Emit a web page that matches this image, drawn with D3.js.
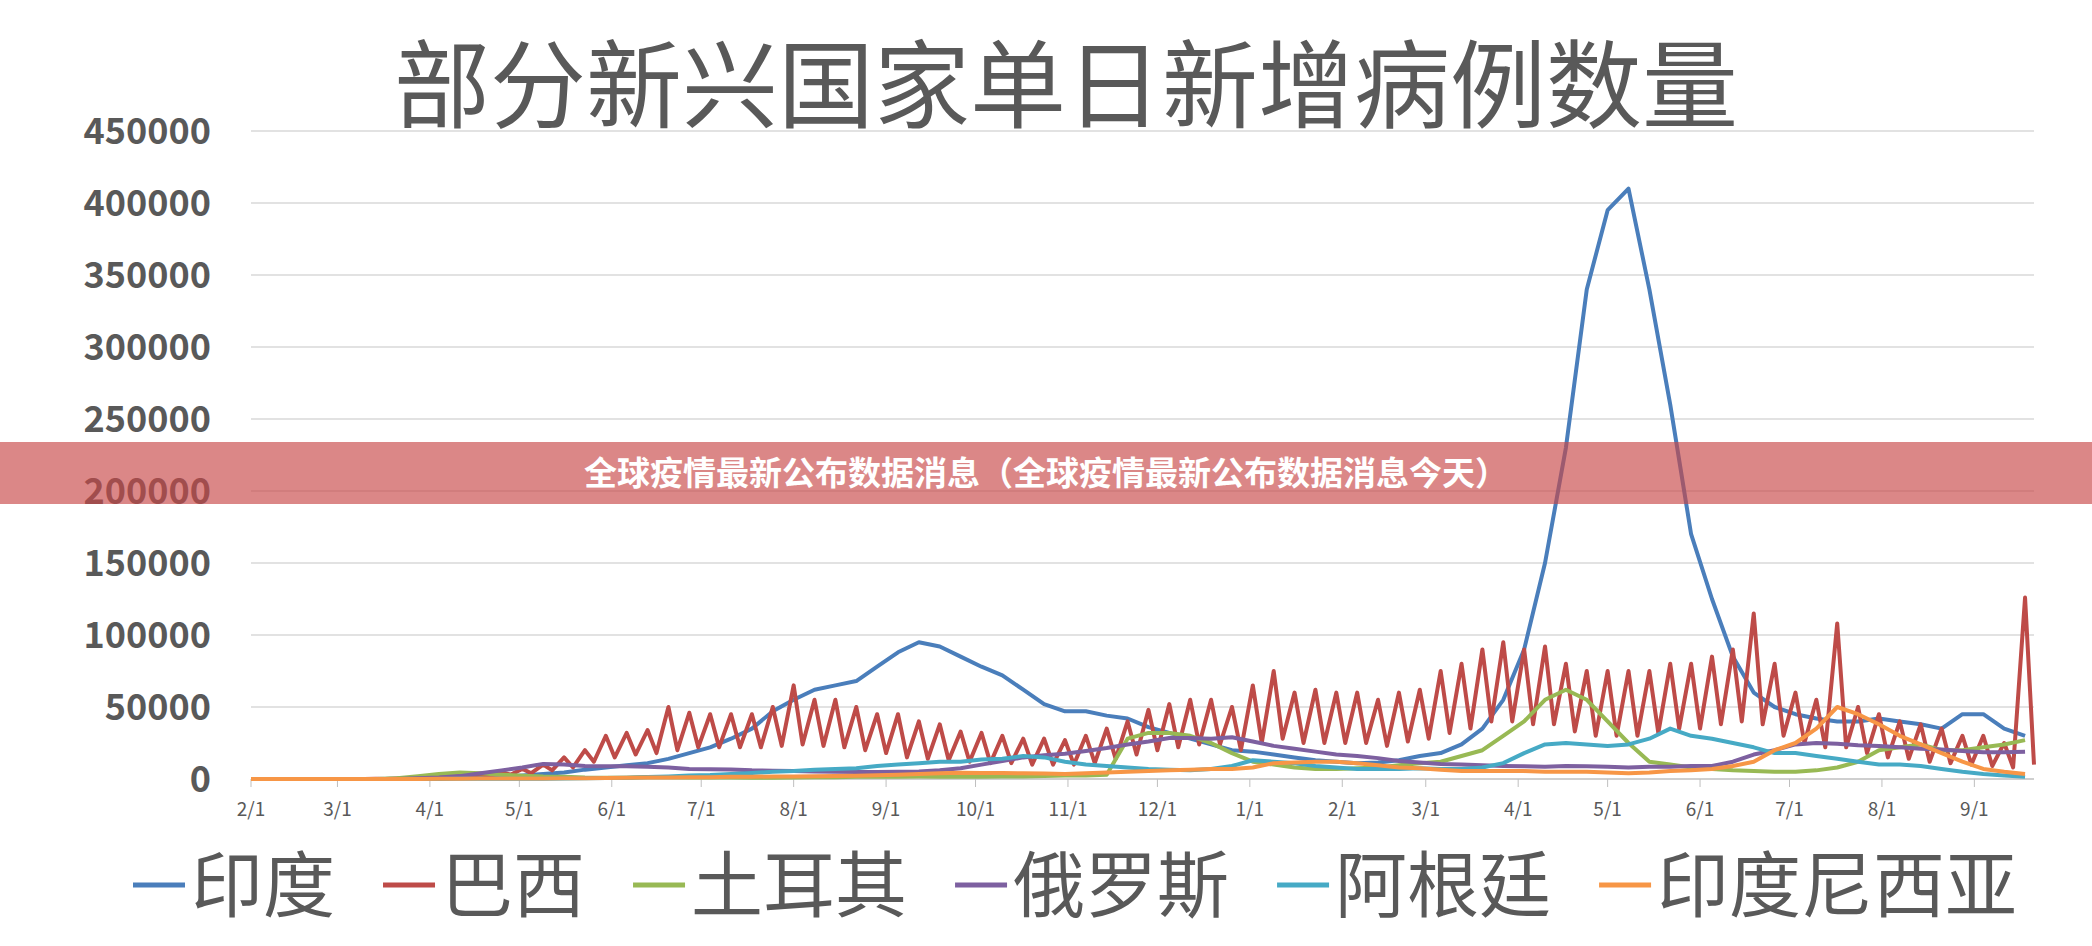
<!DOCTYPE html>
<html><head><meta charset="utf-8">
<script src="https://cdn.jsdelivr.net/npm/d3@7"></script>
<style>body{margin:0;background:#fff}text{font-family:"Noto Sans CJK SC","Noto Sans",sans-serif}</style>
</head><body><svg id="chart"></svg>
<script>
// weekly samples starting 2020-02-01
const startDate = new Date(2020, 1, 1)
const india = [0,0,0,0,0,10,50,100,300,600,900,1200,1700,2500,3500,4500,6500,8000,9500,11000,14000,18000,22000,28000,35000,47000,55000,62000,65000,68000,78000,88000,95000,92000,85000,78000,72000,62000,52000,47000,47000,44000,42000,36000,32000,28000,24000,20000,19000,17000,15000,13000,12000,11000,11500,13000,16000,18000,24000,35000,55000,90000,150000,230000,340000,395000,410000,340000,260000,170000,125000,85000,60000,50000,45000,42000,40000,40000,42000,40000,38000,35000,45000,45000,35000,30000]
const brazilHigh = [0,0,0,0,0,20,100,300,800,1500,2500,3500,5000,7000,10000,15000,20000,30000,32000,34000,50000,46000,45000,45000,45000,50000,65000,55000,55000,50000,45000,45000,40000,38000,33000,32000,30000,28000,28000,27000,30000,35000,40000,48000,52000,55000,55000,50000,65000,75000,60000,62000,60000,60000,55000,60000,62000,75000,80000,90000,95000,90000,92000,80000,75000,75000,75000,75000,80000,80000,85000,90000,115000,80000,60000,55000,108000,50000,45000,40000,38000,35000,30000,30000,25000,126000]
const brazilLow = [0,0,0,0,0,10,50,200,500,1000,1500,2000,3000,4000,6000,8000,12000,15000,17000,18000,20000,22000,22000,22000,22000,23000,24000,23000,22000,20000,18000,15000,14000,13000,12000,11000,11000,10000,10000,10000,11000,14000,17000,20000,22000,24000,24000,20000,25000,28000,25000,25000,25000,25000,23000,26000,28000,32000,35000,40000,40000,38000,38000,33000,30000,30000,30000,32000,35000,35000,38000,40000,38000,30000,25000,22000,22000,18000,15000,14000,12000,11000,10000,9000,8000,10000]
const turkey = [0,0,0,0,0,0,50,500,2000,3500,4500,4000,3000,2300,1700,1500,1000,900,900,1400,1300,1100,1100,1000,900,950,1000,1200,1300,1500,1500,1600,1700,1600,1600,1600,1700,1800,2100,2400,2500,3000,28000,32000,32000,30000,25000,18000,12000,10000,8000,7000,7000,7500,8000,9500,11000,12000,16000,20000,30000,40000,55000,62000,55000,40000,25000,12000,10000,8000,7000,6000,5500,5000,5000,6000,8000,12000,20000,22000,24000,20000,20000,22000,24000,27000]
const russia = [0,0,0,0,0,0,0,0,500,1000,2000,4000,6000,8000,10500,10000,9000,8800,8800,8500,8000,7000,6700,6600,6000,5800,5500,5200,5000,4900,4900,5000,5200,6000,7500,10000,12500,15000,16500,17500,19500,21500,24000,26000,28500,28500,28000,29000,26000,23000,21000,19000,17000,16000,14500,12500,11500,10500,10000,9500,9000,8800,8500,9000,8800,8500,8000,8500,8500,9000,9000,12000,17000,20000,24000,25000,24500,23500,23000,22000,21000,20500,19500,18500,18500,19000]
const argentina = [0,0,0,0,0,0,0,0,0,50,100,100,150,150,200,300,500,700,900,1400,1800,2500,2800,3500,4200,5000,5500,6500,7000,7500,9000,10000,11000,12000,12000,13500,14000,16000,15000,12000,10000,9000,8000,7000,6500,6000,7000,9000,13000,12000,11000,9000,8000,7000,7000,7000,7500,7000,7000,8000,11000,18000,24000,25000,24000,23000,24000,28000,35000,30000,28000,25000,22000,18000,18000,16000,14000,12000,10000,10000,9000,7000,5000,3500,2500,1500]
const indonesia = [0,0,0,0,0,0,0,0,0,100,200,300,300,400,400,500,600,700,800,1000,1100,1200,1300,1500,1600,1700,1800,1900,2000,2200,2600,3000,3500,4000,4300,4200,4100,4000,3900,3500,4000,4500,5000,5500,6000,6500,7000,7000,8000,11000,11500,12000,12000,11000,9500,8000,7500,6500,5500,5500,5500,5500,5000,5000,5000,4500,4000,4500,5500,6000,7000,9000,12000,20000,25000,35000,50000,45000,38000,30000,24000,18000,12000,7000,5000,3500]
const names = ['印度', '巴西', '土耳其', '俄罗斯', '阿根廷', '印度尼西亚']
const colors = ['#4a7ebb', '#be4b48', '#98b954', '#7d60a0', '#46aac5', '#f79646']
const yTicks = [0,50000,100000,150000,200000,250000,300000,350000,400000,450000]

const W = 2092, H = 946
const svg = d3.select('#chart').attr('width', W).attr('height', H)
const day = d => d3.timeDay.offset(startDate, d)

const x = d3.scaleTime().domain([startDate, new Date(2021, 8, 21)]).range([251, 2034])
const y = d3.scaleLinear().domain([0, 450000]).range([779, 131])

svg.append('text').attr('x', 1066).attr('y', 120).attr('text-anchor', 'middle')
    .attr('font-size', 96).attr('fill', '#595959').text('部分新兴国家单日新增病例数量')

svg.selectAll('line.grid').data(yTicks).enter().append('line')
    .attr('x1', 251).attr('x2', 2034).attr('y1', d => y(d)).attr('y2', d => y(d))
    .attr('stroke', d => d === 0 ? '#bfbfbf' : '#d9d9d9').attr('stroke-width', 1.5)

svg.selectAll('text.yl').data(yTicks).enter().append('text')
    .attr('x', 211).attr('y', d => y(d)).attr('dy', '0.35em').attr('text-anchor', 'end')
    .attr('font-size', 36).attr('font-weight', 'bold').attr('font-family', 'Liberation Sans, Arial')
    .attr('fill', '#595959').text(d => d)

const months = d3.timeMonth.range(startDate, new Date(2021, 8, 2))
svg.selectAll('text.xl').data(months).enter().append('text')
    .attr('x', d => x(d)).attr('y', 816).attr('text-anchor', 'middle')
    .attr('font-size', 19).attr('fill', '#595959').text(d3.timeFormat('%-m/%-d'))
svg.selectAll('line.xt').data(months).enter().append('line')
    .attr('x1', d => x(d)).attr('x2', d => x(d)).attr('y1', 779).attr('y2', 787).attr('stroke', '#bfbfbf')

const line = d3.line().x(d => x(d[0])).y(d => y(d[1])).curve(d3.curveLinear)
const weekly = arr => arr.map((v, i) => [day(i * 7), v])
let brazil = []
brazilHigh.forEach((v, i) => { brazil.push([day(i * 7), v]); brazil.push([day(i * 7 + 3), brazilLow[i]]) })
const series = [weekly(india), brazil, weekly(turkey), weekly(russia), weekly(argentina), weekly(indonesia)]

series.forEach((s, i) => {
    svg.append('path').datum(s).attr('d', line).attr('fill', 'none')
        .attr('stroke', colors[i]).attr('stroke-width', 4).attr('stroke-linejoin', 'round')
})

// legend
let lx = 133
names.forEach((n, i) => {
    svg.append('line').attr('x1', lx).attr('x2', lx + 52).attr('y1', 885).attr('y2', 885)
        .attr('stroke', colors[i]).attr('stroke-width', 5)
    let t = svg.append('text').attr('x', lx + 58).attr('y', 885).attr('dy', '0.36em')
        .attr('font-size', 72).attr('fill', '#595959').text(n)
    lx += 58 + t.node().getComputedTextLength() + 48
})

// banner overlay
svg.append('rect').attr('x', 0).attr('y', 442).attr('width', W).attr('height', 62)
    .attr('fill', 'rgba(200,70,70,0.65)')
svg.append('text').attr('x', W / 2).attr('y', 473).attr('dy', '0.35em').attr('text-anchor', 'middle')
    .attr('font-size', 33).attr('font-weight', 'bold').attr('fill', '#fff')
    .text('全球疫情最新公布数据消息（全球疫情最新公布数据消息今天）')
</script></body></html>
